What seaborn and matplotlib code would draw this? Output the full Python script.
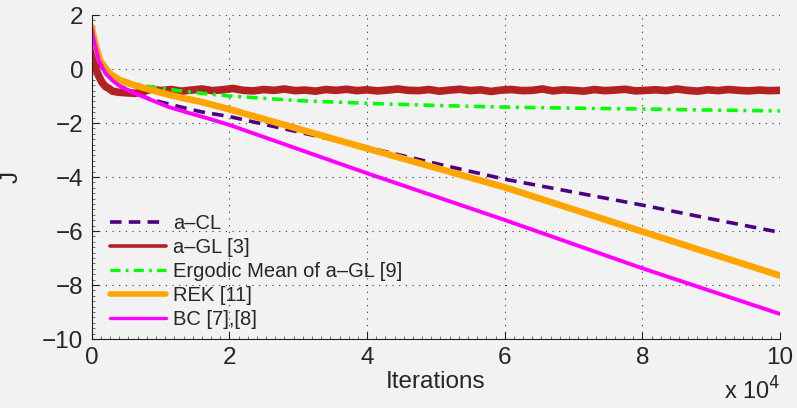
"""Convergence of J vs iterations for a-CL and baseline methods."""
import matplotlib

matplotlib.use("Agg")
import matplotlib.pyplot as plt
import numpy as np
import pandas as pd
import seaborn as sns
from matplotlib.ticker import MultipleLocator

# iterations in units of 1e4
x_acl = [0, 0.1, 0.3, 0.5, 0.85, 1.2, 1.58, 2, 3, 4, 5, 6, 7, 8, 9, 10]
y_acl = [1.0, 0.2, -0.4, -0.75, -1.12, -1.35, -1.58, -1.76, -2.33, -2.9, -3.5, -4.08, -4.56, -5.04, -5.55, -6.05]

x_agl = [0, 0.03, 0.06, 0.1, 0.15, 0.2, 0.25, 0.3, 0.39, 0.5, 0.63, 0.75, 0.87, 1.0,
         1.15, 1.3, 1.45, 1.6, 1.75, 1.9, 2.05, 2.2, 2.35, 2.5, 2.65, 2.8, 2.95, 3.1,
         3.25, 3.4, 3.55, 3.7, 3.85, 4.0, 4.15, 4.3, 4.45, 4.6, 4.75, 4.9, 5.05, 5.2,
         5.35, 5.5, 5.65, 5.8, 5.95, 6.1, 6.25, 6.4, 6.55, 6.7, 6.85, 7.0, 7.15, 7.3,
         7.45, 7.6, 7.75, 7.9, 8.05, 8.2, 8.35, 8.5, 8.65, 8.8, 8.95, 9.1, 9.25, 9.4,
         9.55, 9.7, 9.85, 10.0]
y_agl = [0.8, 0.35, 0.0, -0.25, -0.5, -0.65, -0.72, -0.82, -0.86, -0.88, -0.9, -0.84, -0.74, -0.8,
         -0.76, -0.82, -0.78, -0.74, -0.8, -0.77, -0.72, -0.79, -0.81, -0.76, -0.79, -0.74, -0.8, -0.78,
         -0.82, -0.76, -0.79, -0.75, -0.8, -0.77, -0.81, -0.78, -0.74, -0.79, -0.8, -0.76, -0.82, -0.78,
         -0.75, -0.8, -0.77, -0.83, -0.78, -0.76, -0.8, -0.79, -0.74, -0.81, -0.77, -0.79, -0.82, -0.76,
         -0.8, -0.78, -0.75, -0.81, -0.79, -0.77, -0.8, -0.74, -0.79, -0.82, -0.77, -0.8, -0.76, -0.79,
         -0.81, -0.78, -0.8, -0.79]

x_erg = [0, 0.05, 0.12, 0.25, 0.4, 0.63, 0.9, 1.26, 1.6, 2, 3, 4, 5, 6, 7, 8, 9, 10]
y_erg = [1.05, 0.8, 0.4, -0.05, -0.35, -0.55, -0.68, -0.8, -0.9, -1.0, -1.17, -1.27, -1.35, -1.41, -1.45, -1.48, -1.52, -1.55]

x_rek = [0, 0.02, 0.05, 0.12, 0.2, 0.29, 0.4, 0.53, 0.7, 0.87, 1.1, 1.35, 1.58, 2, 4, 6, 8, 10]
y_rek = [1.55, 1.3, 0.95, 0.33, -0.0, -0.22, -0.4, -0.53, -0.66, -0.78, -0.94, -1.09, -1.21, -1.49, -2.94, -4.38, -6.02, -7.65]

x_bc = [0, 0.02, 0.05, 0.1, 0.2, 0.3, 0.39, 0.5, 0.63, 0.8, 1.11, 1.4, 1.69, 2, 4, 6, 8, 10]
y_bc = [1.5, 1.2, 0.85, 0.33, -0.16, -0.42, -0.6, -0.76, -0.9, -1.08, -1.4, -1.62, -1.83, -2.07, -3.86, -5.59, -7.38, -9.07]

labels = ["a–CL", "a–GL [3]", "Ergodic Mean of a–GL [9]", "REK [11]", "BC [7],[8]"]
colors = ["#4B0082", "#B22222", "#00FF00", "#FFA500", "#FF00FF"]

BG = "#F2F2F2"

sns.set_theme(style="white")
plt.rcParams["font.family"] = ["Liberation Sans", "DejaVu Sans"]
plt.rcParams["axes.unicode_minus"] = True

fig = plt.figure(figsize=(7.97, 4.08), dpi=100, facecolor=BG)
ax = fig.add_axes([0.1151, 0.169, 0.8636, 0.7942])
ax.set_facecolor(BG)

series = [
    (x_acl, y_acl, dict(linestyle=(0, (3.2, 2.0)), linewidth=2.6)),
    (x_agl, y_agl, dict(linestyle="-", linewidth=5.5)),
    (x_erg, y_erg, dict(linestyle=(0, (3.0, 1.6, 0.8, 1.6)), linewidth=2.6)),
    (x_rek, y_rek, dict(linestyle="-", linewidth=4.8)),
    (x_bc, y_bc, dict(linestyle="-", linewidth=2.8)),
]
for (xs, ys, style), lab, col in zip(series, labels, colors):
    df = pd.DataFrame({"it": xs, "J": ys})
    sns.lineplot(data=df, x="it", y="J", ax=ax, color=col, label=lab,
                 sort=False, estimator=None, **style)

ax.set_xlim(0, 10)
ax.set_ylim(-10, 2)
ax.xaxis.set_major_locator(MultipleLocator(2))
ax.xaxis.set_minor_locator(MultipleLocator(2 / 15))
ax.yaxis.set_major_locator(MultipleLocator(2))
ax.yaxis.set_minor_locator(MultipleLocator(0.2))
ax.tick_params(which="major", direction="in", length=5, width=0.8, color="#222222",
               labelsize=17.5, pad=6, bottom=True, left=True)
ax.tick_params(which="minor", direction="in", length=2.5, width=0.6, color="#555555",
               bottom=True, left=True)

ax.grid(True, which="major", linestyle=(0, (1, 5)), color="#333333", linewidth=0.8)
for s in ["top", "right"]:
    ax.spines[s].set_visible(False)
for s in ["left", "bottom"]:
    ax.spines[s].set_color("#222222")
    ax.spines[s].set_linewidth(0.8)

ax.set_xlabel("Iterations", fontsize=17.5, labelpad=1)
ax.set_ylabel("J", fontsize=17.5, labelpad=14)
ax.text(1.0, -0.118, "x 10$^4$", transform=ax.transAxes, ha="right", va="top",
        fontsize=17)

leg = ax.legend(loc="upper left", bbox_to_anchor=(0.026, 0.385), frameon=False,
                fontsize=14.5, handlelength=2.8, handletextpad=0.35,
                labelspacing=0.25, borderpad=0, borderaxespad=0)
for line, lw in zip(leg.get_lines(), [2.6, 2.6, 2.4, 4.0, 2.4]):
    line.set_linewidth(lw)

fig.savefig("out.png", dpi=100, facecolor=BG)
